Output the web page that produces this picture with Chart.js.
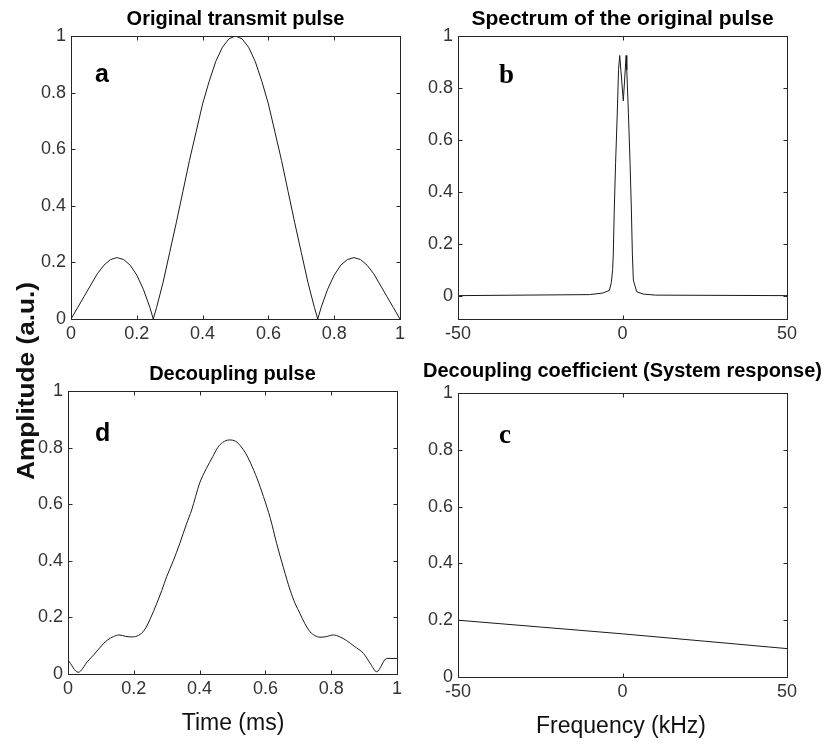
<!DOCTYPE html>
<html><head><meta charset="utf-8">
<script src="https://cdn.jsdelivr.net/npm/chart.js@4.4.1/dist/chart.umd.min.js"></script>
<style>
html,body{margin:0;padding:0;background:#fff;}
#wrap{position:relative;width:825px;height:745px;overflow:hidden;background:#fff;}
#wrap canvas{position:absolute;left:0;top:0;}
</style></head><body>
<div id="wrap">
<canvas id="pa" width="825" height="745"></canvas>
<canvas id="pb" width="825" height="745"></canvas>
<canvas id="pd" width="825" height="745"></canvas>
<canvas id="pc" width="825" height="745"></canvas>
</div>
<script>
// ---- data ----
const pulseTime = [0,0.02,0.04,0.06,0.08,0.10,0.12,0.14,0.16,0.18,0.20,0.22,0.24,0.25,0.26,0.28,0.30,0.32,0.34,0.36,0.38,0.40,0.42,0.44,0.46,0.48,0.50,0.52,0.54,0.56,0.58,0.60,0.62,0.64,0.66,0.68,0.70,0.72,0.74,0.75,0.76,0.78,0.80,0.82,0.84,0.86,0.88,0.90,0.92,0.94,0.96,0.98,1.0];
const pulseAmp  = [0,0.04,0.08,0.12,0.16,0.19,0.21,0.217,0.21,0.19,0.155,0.105,0.04,0,0.04,0.13,0.235,0.34,0.45,0.56,0.66,0.76,0.84,0.91,0.96,0.99,1.0,0.99,0.96,0.91,0.84,0.76,0.66,0.56,0.45,0.34,0.235,0.13,0.04,0,0.04,0.105,0.155,0.19,0.21,0.217,0.21,0.19,0.16,0.12,0.08,0.04,0];

const specFreq = [-50,-10,-6,-4,-3.4,-3.0,-2.8,-2.5,-2.1,-1.6,-1.2,-0.85,0.25,1.1,1.3,1.8,2.3,2.7,3.0,3.3,4.3,6.3,10,50];
const specAmp  = [0,0.004,0.01,0.02,0.05,0.10,0.16,0.33,0.51,0.70,0.87,0.925,0.75,0.925,0.87,0.70,0.51,0.33,0.16,0.06,0.015,0.006,0.002,0];

const decTime = [0,0.031,0.06,0.08,0.107,0.12,0.138,0.155,0.175,0.195,0.215,0.232,0.25,0.27,0.285,0.30,0.32,0.34,0.36,0.376,0.40,0.42,0.44,0.455,0.47,0.49,0.51,0.525,0.54,0.555,0.575,0.594,0.615,0.634,0.655,0.675,0.69,0.705,0.72,0.736,0.75,0.766,0.785,0.806,0.825,0.847,0.87,0.898,0.92,0.938,0.969,1.0];
const decAmp  = [0.05,0.006,0.045,0.07,0.106,0.12,0.132,0.138,0.133,0.131,0.137,0.155,0.195,0.25,0.295,0.344,0.40,0.462,0.53,0.58,0.674,0.725,0.768,0.80,0.818,0.827,0.822,0.805,0.78,0.745,0.69,0.627,0.55,0.462,0.375,0.297,0.25,0.214,0.178,0.149,0.136,0.130,0.132,0.138,0.132,0.118,0.098,0.073,0.035,0.008,0.055,0.055];

const coefFreq = [-50,-25,0,25,50];
const coefAmp  = [0.2,0.176,0.152,0.126,0.1];

const timeTicks = [0,0.2,0.4,0.6,0.8,1];
const freqTicks = [-50,0,50];
const ampTicks  = [0,0.2,0.4,0.6,0.8,1];

const panelTitles = ['Original transmit pulse','Spectrum of the original pulse','Decoupling pulse','Decoupling coefficient (System response)'];
const panelLetters = ['a','b','d','c'];
const yAxisLabel = 'Amplitude (a.u.)';
const timeLabel = 'Time (ms)';
const freqLabel = 'Frequency (kHz)';

// ---- drawing ----
const SANS = '"Liberation Sans", Arial, sans-serif';
const SERIF = '"Liberation Serif", "Times New Roman", serif';
const W = 825, H = 745, YW = 50, XH = 30;

function fmt(v){ return String(Math.round(v*100)/100); }

const boxPlugin = {
  id: 'box',
  afterDatasetsDraw(chart, args, o) {
    const {ctx, chartArea: a, scales: {x, y}} = chart;
    ctx.save();
    ctx.strokeStyle = '#262626';
    ctx.lineWidth = 1;
    const L = Math.round(a.left)+0.5, T = Math.round(a.top)+0.5, R = Math.round(a.right)+0.5, B = Math.round(a.bottom)+0.5;
    ctx.strokeRect(L, T, R-L, B-T);
    const tl = 4;
    ctx.beginPath();
    x.ticks.forEach(t => {
      const px = Math.round(x.getPixelForValue(t.value))+0.5;
      ctx.moveTo(px, B); ctx.lineTo(px, B-tl);
      ctx.moveTo(px, T); ctx.lineTo(px, T+tl);
    });
    y.ticks.forEach(t => {
      const py = Math.round(y.getPixelForValue(t.value))+0.5;
      ctx.moveTo(L, py); ctx.lineTo(L+tl, py);
      ctx.moveTo(R, py); ctx.lineTo(R-tl, py);
    });
    ctx.stroke();
    // title
    ctx.fillStyle = '#000';
    ctx.textAlign = 'center';
    ctx.textBaseline = 'alphabetic';
    ctx.font = 'bold ' + o.titleSize + 'px ' + SANS;
    ctx.fillText(o.title, (a.left + a.right)/2, o.titleY);
    // panel letter
    ctx.textAlign = 'left';
    ctx.font = 'bold ' + o.letterSize + 'px ' + (o.letterSerif ? SERIF : SANS);
    ctx.fillText(o.letter, o.letterX, o.letterY);
    // extra texts
    (o.extra || []).forEach(e => {
      ctx.save();
      ctx.font = e.font;
      ctx.fillStyle = e.color || '#111';
      ctx.textAlign = 'center';
      ctx.translate(e.x, e.y);
      if (e.rot) ctx.rotate(e.rot);
      if (e.sx) ctx.scale(e.sx, 1);
      ctx.fillText(e.text, 0, 0);
      ctx.restore();
    });
    ctx.restore();
  }
};

function makeChart(id, xs, ys, xTicks, xMin, xMax, yMin, area, box, smooth) {
  const pts = xs.map((v, i) => ({x: v, y: ys[i]}));
  const ds = { data: pts, borderColor: '#1a1a1a', borderWidth: 1, pointRadius: 0, tension: 0, fill: false };
  if (smooth) ds.cubicInterpolationMode = 'monotone';
  return new Chart(document.getElementById(id), {
    type: 'line',
    data: { datasets: [ds] },
    options: {
      responsive: false, animation: false, events: [],
      layout: { padding: { left: area.l - YW, top: area.t, right: W - area.r, bottom: H - area.b - XH } },
      plugins: { legend: {display: false}, tooltip: {enabled: false}, title: {display: false}, box: box },
      scales: {
        x: {
          type: 'linear', min: xMin, max: xMax,
          afterBuildTicks: s => { s.ticks = xTicks.map(v => ({value: v})); },
          afterFit: s => { s.height = XH; },
          grid: { display: false, drawTicks: false },
          border: { display: false },
          ticks: { color: '#333', font: { family: SANS, size: 18 }, padding: 4, maxRotation: 0, autoSkip: false, callback: v => fmt(v) }
        },
        y: {
          type: 'linear', min: yMin, max: 1,
          afterBuildTicks: s => { s.ticks = ampTicks.map(v => ({value: v})); },
          afterFit: s => { s.width = YW; },
          grid: { display: false, drawTicks: false },
          border: { display: false },
          ticks: { color: '#333', font: { family: SANS, size: 18 }, padding: 5, autoSkip: false, callback: v => fmt(v) }
        }
      }
    },
    plugins: [boxPlugin]
  });
}

makeChart('pa', pulseTime, pulseAmp, timeTicks, 0, 1, 0,
  {l: 71, t: 36, r: 400, b: 319},
  {title: panelTitles[0], titleSize: 20, titleY: 25, letter: panelLetters[0], letterSize: 25, letterX: 95, letterY: 82});

makeChart('pb', specFreq, specAmp, freqTicks, -50, 50, -0.09,
  {l: 458, t: 36, r: 787, b: 319},
  {title: panelTitles[1], titleSize: 21, titleY: 25, letter: panelLetters[1], letterSize: 27, letterSerif: true, letterX: 499, letterY: 83});

makeChart('pd', decTime, decAmp, timeTicks, 0, 1, 0,
  {l: 68, t: 391, r: 397, b: 674},
  {title: panelTitles[2], titleSize: 20, titleY: 380, letter: panelLetters[2], letterSize: 25, letterX: 95, letterY: 441,
   extra: [
     {text: yAxisLabel, font: 'bold 23px ' + SANS, x: 34, y: 381, rot: -Math.PI/2, sx: 1.14, color: '#111'},
     {text: timeLabel, font: '23px ' + SANS, x: 233, y: 730, color: '#111'}
   ]}, true);

makeChart('pc', coefFreq, coefAmp, freqTicks, -50, 50, 0,
  {l: 458, t: 393, r: 787, b: 677},
  {title: panelTitles[3], titleSize: 20, titleY: 377, letter: panelLetters[3], letterSize: 27, letterSerif: true, letterX: 499, letterY: 443,
   extra: [
     {text: freqLabel, font: '23px ' + SANS, x: 621, y: 733, color: '#111'}
   ]});
</script>
</body></html>
